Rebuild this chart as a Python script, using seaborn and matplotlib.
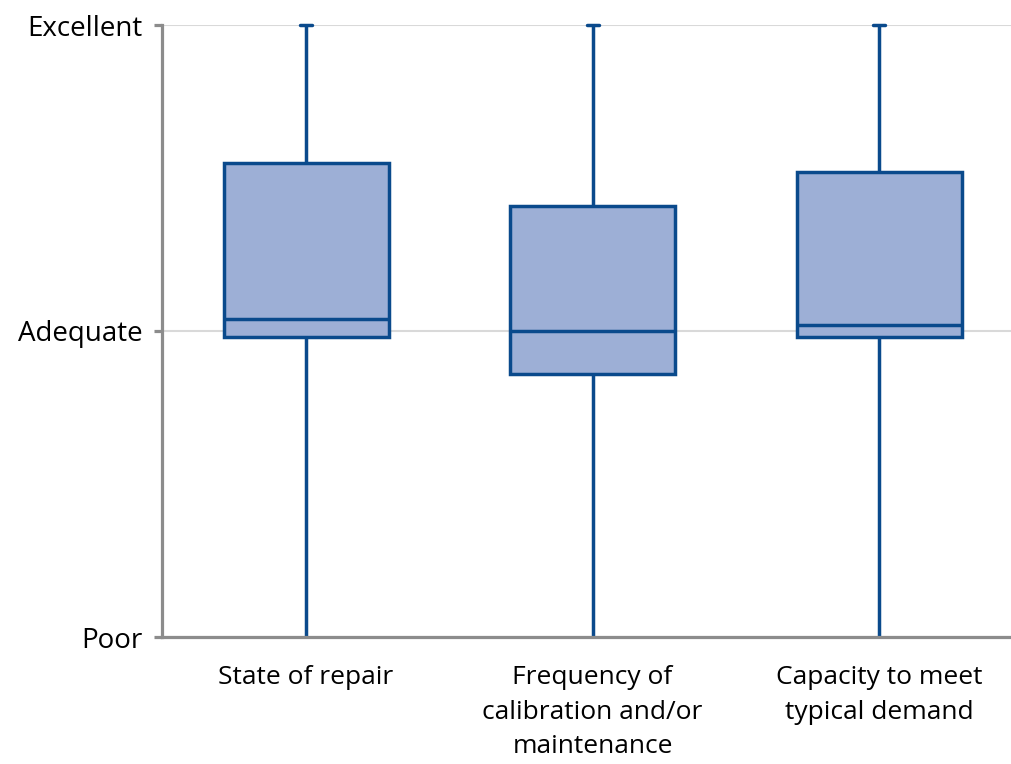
import numpy as np
import pandas as pd
import matplotlib
matplotlib.use("Agg")
import matplotlib.pyplot as plt
import seaborn as sns

# categories and box summary values (1 = Poor, 2 = Adequate, 3 = Excellent)
categories = ["State of repair",
              "Frequency of\ncalibration and/or\nmaintenance",
              "Capacity to meet\ntypical demand"]
mins = [1.0, 1.0, 1.0]
q1s = [1.98, 1.86, 1.98]
medians = [2.04, 2.00, 2.02]
q3s = [2.55, 2.41, 2.52]
maxs = [3.0, 3.0, 3.0]
ytick_vals = [1, 2, 3]
ytick_labels = ["Poor", "Adequate", "Excellent"]

# five values per box: with linear quantiles, Q1/Q3 land exactly on the 2nd/4th value
rows = []
for cat, a, b, c, d, e in zip(categories, mins, q1s, medians, q3s, maxs):
    for v in (a, b, c, d, e):
        rows.append({"category": cat, "score": v})
df = pd.DataFrame(rows)

sns.set_style("white")
plt.rcParams["font.family"] = ["Open Sans", "DejaVu Sans"]

fill = "#9DAFD6"
edge = "#0A4A8C"
grey = "#8C8C8C"

fig = plt.figure(figsize=(10.12, 7.64), dpi=100)
ax = fig.add_axes([162 / 1012, (764 - 637) / 764, 850 / 1012, 612 / 764])

sns.boxplot(data=df, x="category", y="score", order=categories, ax=ax,
            whis=(0, 100), width=0.576, color=fill, linecolor=edge,
            linewidth=2.5, showfliers=False, saturation=1)
for p in ax.patches:
    p.set_facecolor(fill)

# narrow whisker caps like the reference
cap_half = 0.021
for line in ax.lines:
    line.set_clip_on(False)
    x = np.asarray(line.get_xdata(), dtype=float)
    y = np.asarray(line.get_ydata(), dtype=float)
    if len(y) == 2 and y[0] == y[1] and y[0] in (1.0, 3.0) and x[0] != x[1]:
        c = x.mean()
        line.set_xdata([c - cap_half, c + cap_half])
        if y[0] == 1.0:
            line.set_visible(False)

ax.set_ylim(1, 3)
ax.set_xlim(-0.503, 2.464)
ax.set_yticks(ytick_vals)
ax.set_yticklabels(ytick_labels, fontsize=20, color="black")
ax.set_xticklabels(categories, fontsize=19, color="black", linespacing=1.5)
ax.set_xlabel("")
ax.set_ylabel("")
ax.yaxis.grid(True, color="#D9D9D9", linewidth=1.5)
ax.set_axisbelow(True)

for side in ("top", "right"):
    ax.spines[side].set_visible(False)
for side in ("left", "bottom"):
    ax.spines[side].set_color(grey)
    ax.spines[side].set_linewidth(2.3)
ax.tick_params(axis="y", left=True, length=6, width=2.3, color=grey, pad=8)
ax.tick_params(axis="x", bottom=False, pad=17)

fig.savefig("out.png", dpi=100)
